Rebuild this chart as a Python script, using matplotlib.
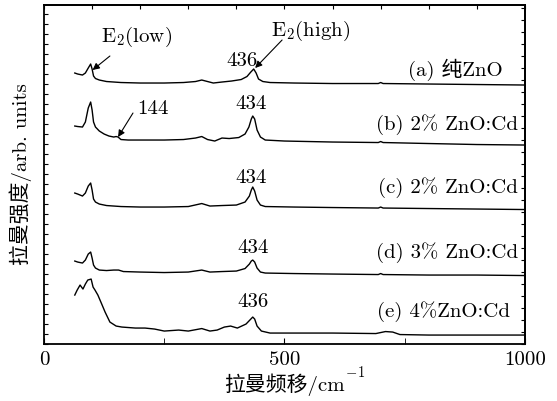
import matplotlib
matplotlib.use("Agg")
import matplotlib.pyplot as plt
from matplotlib.ticker import MultipleLocator, FixedLocator, NullFormatter

plt.rcParams["font.family"] = ["cmr10", "Noto Sans CJK SC"]
plt.rcParams["mathtext.fontset"] = "cm"
plt.rcParams["axes.unicode_minus"] = False
plt.rcParams["font.size"] = 15

# Raman shift (cm^-1) and intensity (arb. units, offset per trace)
wn_a = [64, 70, 80, 86, 92, 97, 100, 103, 107, 115, 130, 160, 200, 250, 290, 315, 328,
        340, 352, 370, 390, 410, 422, 430, 436, 441, 446, 455, 470, 520, 600, 695, 700,
        705, 800, 900, 1000]
int_a = [271, 270, 269, 271, 276, 280, 275, 268, 265.5, 264, 262.5, 261.5, 261, 261,
         261.5, 262.5, 264, 262.5, 261, 262, 263, 264.5, 267.5, 272, 275, 271, 265,
         262.5, 261.5, 261, 260.5, 260.5, 261.5, 260.5, 260, 259.5, 259]

wn_b = [64, 70, 80, 86, 92, 97, 100, 103, 107, 115, 125, 135, 145, 150, 154, 160, 175,
        200, 250, 290, 315, 328, 340, 355, 370, 385, 405, 418, 426, 431, 434, 438, 443,
        450, 460, 500, 600, 695, 700, 705, 800, 900, 1000]
int_b = [218, 217.5, 217, 222, 236, 242, 234, 222, 217, 213, 210, 208, 207, 207.5, 207,
         204.5, 204, 204, 204, 204.5, 206, 207.5, 204.5, 203, 206, 205.5, 206.5, 210,
         217, 225, 228, 225, 214, 207, 204, 203, 202, 201.5, 202.5, 201.5, 200.5, 199.5,
         199]

wn_c = [64, 70, 80, 86, 92, 97, 100, 103, 107, 115, 130, 160, 200, 250, 300, 328, 345,
        370, 400, 418, 427, 431, 434, 438, 443, 450, 460, 520, 600, 695, 700, 705, 800,
        900, 1000]
int_c = [151, 150, 148, 151, 158, 161, 154, 145, 142, 140, 138.5, 137.5, 137, 137,
         137.5, 140.5, 138, 138.5, 139, 142, 148, 154, 157, 153, 144, 139, 137.5, 137,
         136.5, 136, 137, 136, 135.5, 135, 134.5]

wn_d = [64, 70, 80, 86, 92, 97, 100, 103, 107, 115, 130, 145, 155, 165, 200, 250, 300,
        328, 345, 370, 400, 418, 427, 431, 434, 438, 443, 450, 460, 520, 600, 695, 700,
        705, 800, 900, 1000]
int_d = [83, 82, 81, 84, 90, 92, 86, 79, 76, 74, 73.5, 74, 74, 72.5, 72, 71.5, 72, 74,
         72, 72.5, 73, 75.5, 80, 83, 84, 82, 76, 72, 71, 70.5, 70, 69.5, 70.5, 69.5, 69,
         69, 68.5]

wn_e = [64, 69, 75, 81, 86, 91, 98, 102, 106, 112, 120, 127, 137, 150, 162, 190, 210,
        230, 250, 280, 300, 328, 345, 360, 375, 388, 402, 420, 428, 434, 438, 443, 452,
        470, 520, 600, 690, 700, 710, 725, 740, 800, 900, 1000]
int_e = [49, 54, 59, 55, 60, 64, 65, 57, 54, 49, 40, 32, 22, 18, 17, 16, 16, 15, 13, 14,
         13, 15.5, 13, 14, 17, 18, 16, 20, 24, 27, 25, 18, 13, 11, 11, 11, 10.5, 11.5,
         12.5, 12, 9.5, 9, 9, 9]

traces = [(wn_a, int_a), (wn_b, int_b), (wn_c, int_c), (wn_d, int_d), (wn_e, int_e)]

sample_labels = ["(a) 纯ZnO", "(b) 2% ZnO:Cd", "(c) 2% ZnO:Cd", "(d) 3% ZnO:Cd",
                 "(e) 4%ZnO:Cd"]
label_pos = [(954, 274), (985, 219), (985, 156), (985, 91), (969, 32)]

peak_labels = ["436", "434", "434", "434", "436"]
peak_pos = [(412, 283), (430, 240), (430, 166), (435, 96), (435, 42)]

fig = plt.figure(figsize=(5.57, 4.01), dpi=100)
ax = fig.add_axes([0.079, 0.142, 0.8635, 0.8455])

for xs, ys in traces:
    ax.plot(xs, ys, color="black", lw=1.0)

for txt, (x, y) in zip(sample_labels, label_pos):
    ax.text(x, y, txt, ha="right", va="center")
for txt, (x, y) in zip(peak_labels, peak_pos):
    ax.text(x, y, txt, ha="center", va="center")

arrow = dict(arrowstyle="-|>", color="black", lw=0.8, mutation_scale=10,
             shrinkA=0, shrinkB=0)
ax.text(193, 307, r"E$_2$(low)", ha="center", va="center")
ax.annotate("", xy=(101, 274), xytext=(137, 288), arrowprops=arrow)
ax.text(555, 313, r"E$_2$(high)", ha="center", va="center")
ax.annotate("", xy=(439, 276), xytext=(495, 304), arrowprops=arrow)
ax.text(227, 235, "144", ha="center", va="center")
ax.annotate("", xy=(154, 207), xytext=(185, 231), arrowprops=arrow)

ax.set_xlim(0, 1000)
ax.set_ylim(0, 339)
ax.xaxis.set_major_locator(FixedLocator([0, 500, 1000]))
ax.xaxis.set_minor_locator(FixedLocator([250, 750]))
ax.yaxis.set_major_locator(MultipleLocator(10))
ax.yaxis.set_major_formatter(NullFormatter())
ax.tick_params(axis="x", which="both", direction="in", top=False, length=4, pad=5)
ax.tick_params(axis="y", which="both", direction="in", right=False, length=3)

top = ax.secondary_xaxis("top")
top.xaxis.set_major_locator(MultipleLocator(100))
top.xaxis.set_major_formatter(NullFormatter())
top.tick_params(direction="in", length=3)
right = ax.secondary_yaxis("right")
right.yaxis.set_major_locator(MultipleLocator(12))
right.yaxis.set_major_formatter(NullFormatter())
right.tick_params(direction="in", length=3)

for sp in list(ax.spines.values()) + [top.spines["top"], right.spines["right"]]:
    sp.set_linewidth(1.3)

# CJK text cannot go through mathtext, so the superscript is a separate text
xlab = ax.set_xlabel("拉曼频移/cm", labelpad=3)
ax.annotate(r"$^{-1}$", xy=(1, 0.45), xycoords=xlab, ha="left", va="bottom")
ax.set_ylabel("拉曼强度/arb. units", labelpad=5)

fig.savefig("out.png", dpi=100)
